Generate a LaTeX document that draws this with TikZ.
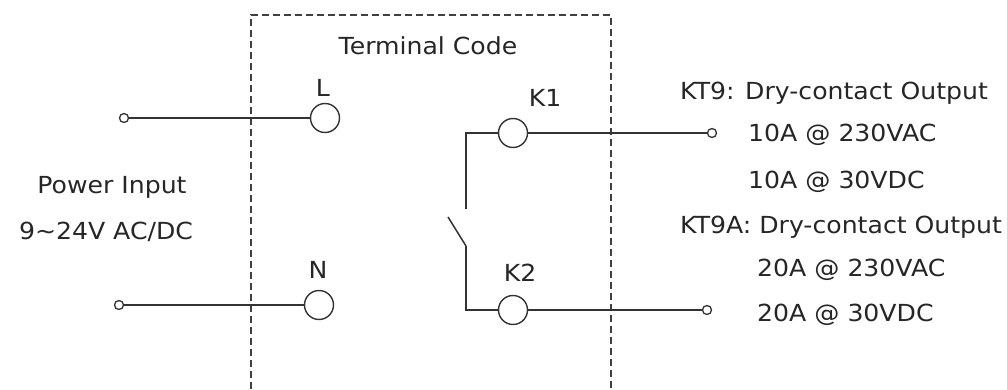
\documentclass[tikz,border=0pt]{standalone}
\usepackage{fontspec}
\setmainfont[FakeStretch=1.07]{DejaVu Sans}
\begin{document}
\begin{tikzpicture}[x=1pt,y=-1pt,
  wire/.style={draw=black!80, line width=1.5pt},
  term/.style={circle, draw=black!80, line width=1.4pt, minimum size=29pt, inner sep=0pt, fill=white},
  pin/.style={circle, draw=black!80, line width=1.3pt, minimum size=9pt, inner sep=0pt, fill=white},
  lbl/.style={inner sep=0pt, font=\fontsize{23.5}{28}\selectfont, text=black!85},
  lbll/.style={lbl, anchor=west},
  box/.style={draw=black!75, line width=2.2pt, dash pattern=on 7pt off 4pt}]
\useasboundingbox (0,0) rectangle (1007,390);
% dashed box
\draw[box] (251,400) -- (251,15) -- (611,15) -- (611,400);
\node[lbl] (tc) at (428,46) {Terminal Code};
% terminals
\node[pin] (pl) at (124,118) {};
\node[term] (L) at (325,118) {};
\node[lbl] (Ll) at (323,88) {L};
\node[pin] (pn) at (119,305) {};
\node[term] (N) at (319,305) {};
\node[lbl] (Nl) at (318,270) {N};
\node[term] (K1) at (513,133) {};
\node[lbl] (K1l) at (545,98) {K1};
\node[term] (K2) at (513,310) {};
\node[lbl] (K2l) at (520,273) {K2};
\node[pin] (o1) at (712,133) {};
\node[pin] (o2) at (707,310) {};
\coordinate (s1) at (466,209);
\coordinate (s2) at (466,246);
\coordinate (b1) at (448,217);
% wires
\draw[wire] (pl) -- (L);
\draw[wire] (pn) -- (N);
\draw[wire] (K1) -- (o1);
\draw[wire] (K2) -- (o2);
\draw[wire] (K1.west) -| (s1);
\draw[wire] (K2.west) -| (s2);
\draw[wire] (b1) -- (s2);
% texts
\node[lbl] (pi) at (112,187) {Power Input};
\node[lbl] (pv) at (106,232) {9\textasciitilde 24V AC/DC};
\node[lbll] (t1) at (680,93) {KT9: Dry-contact Output};
\node[lbll] (t2) at (748,135) {10A @ 230VAC};
\node[lbll] (t3) at (748,182) {10A @ 30VDC};
\node[lbll] (t4) at (680,227) {KT9A: Dry-contact Output};
\node[lbll] (t5) at (757,270) {20A @ 230VAC};
\node[lbll] (t6) at (757,315) {20A @ 30VDC};
\end{tikzpicture}
\end{document}
